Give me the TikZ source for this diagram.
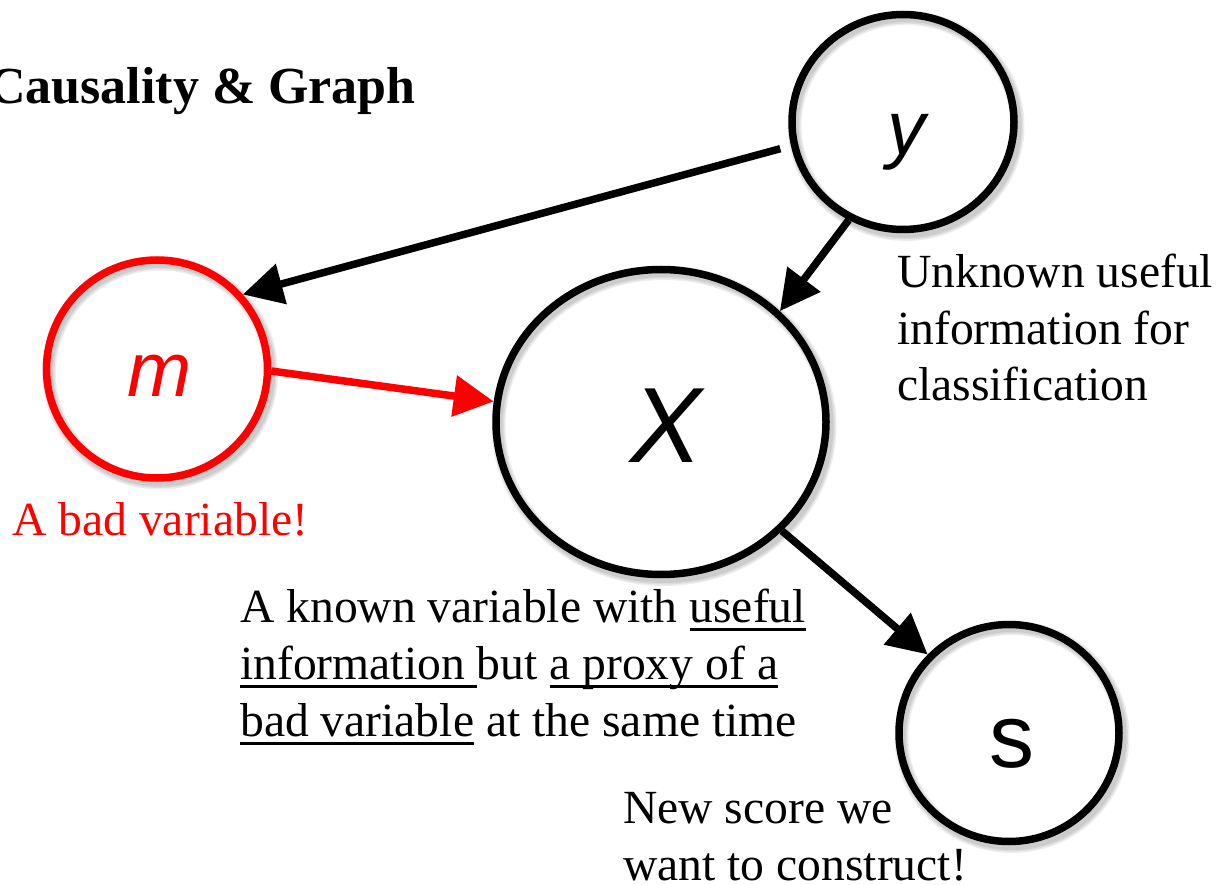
\documentclass[tikz,border=0pt]{standalone}
\usepackage{fontspec}
\setmainfont{Liberation Serif}
\newfontfamily\varfont{Liberation Sans}
\usetikzlibrary{arrows.meta,shapes.geometric}

% underline that sits just below the baseline, touching descenders
\newcommand\undl[1]{\setbox0\hbox{#1}\rlap{\rule[-8.5pt]{\wd0}{2.4pt}}\box0\relax}

\tikzset{
  var/.style={ellipse, draw, line width=7.5pt, inner sep=0pt},
  badvar/.style={var, draw=red},
  link/.style={line width=7.5pt, -{Triangle[length=40pt,width=40pt]}},
  badlink/.style={link, draw=red, fill=red},
  % multi-line notes: the base anchor is the baseline of the last line
  note/.style={anchor=base west, inner sep=0pt, align=left,
               font=\fontsize{47.6}{57}\selectfont},
  letter/.style={anchor=base, inner sep=0pt},
  ringshadow/.style={draw=black, opacity=0.07}
}

\begin{document}
\begin{tikzpicture}[x=1pt, y=-1pt]
\useasboundingbox (0,0) rectangle (1219,885);

% soft shadows under the rings
\foreach \cx/\cy/\rx/\ry in {903/122/111.5/108, 661/422/165.5/153,
                             157/369/111/109.5, 1009/733/110.5/109} {
  \foreach \w in {14,11,8} {
    \draw[ringshadow, line width=\w pt] (\cx+3,\cy+4) ellipse [x radius=\rx, y radius=\ry];
  }
}

% variables
\node[var, minimum width=222pt, minimum height=215pt] (y) at (903,122) {};
\node[var, minimum width=330pt, minimum height=305pt] (X) at (661,422) {};
\node[badvar, minimum width=221pt, minimum height=218pt] (m) at (157,369) {};
\node[var, minimum width=220pt, minimum height=217pt] (s) at (1009,733) {};

% variable names
\node[letter, font=\varfont\itshape\fontsize{76}{80}\selectfont] (ylab) at (906,155) {y};
\node[letter, font=\varfont\itshape\fontsize{107}{110}\selectfont] (Xlab) at (666,462) {X};
\node[letter, text=red, font=\varfont\itshape\fontsize{77}{80}\selectfont] (mlab) at (160,397) {m};
\node[letter, font=\varfont\fontsize{90}{92}\selectfont] (slab) at (1012,767) {s};

% causal links
\draw[link, shorten <=11pt] (y.192.9) -- (m.41);
\draw[link] (y.241.6) -- (X.43.3);
\draw[badlink] (m.-1) -- (X.173.3);
\draw[link] (X.-42.7) -- (s.136);

% title and annotations
\node[anchor=base west, inner sep=0pt, font=\bfseries\fontsize{52}{62}\selectfont]
  (title) at (-12,104) {Causality \& Graph};
\node[note] (ynote) at (897,401)
  {Unknown useful\\information for\\classification};
\node[note, text=red] (mnote) at (12,535) {A bad variable!};
\node[note] (Xnote) at (240,736)
  {A known variable with \undl{useful}\\\undl{information\ }but \undl{a proxy of a}\\\undl{bad variable} at the same time};
\node[note] (snote) at (623,880)
  {New score we\\want to construct!};
\end{tikzpicture}
\end{document}
